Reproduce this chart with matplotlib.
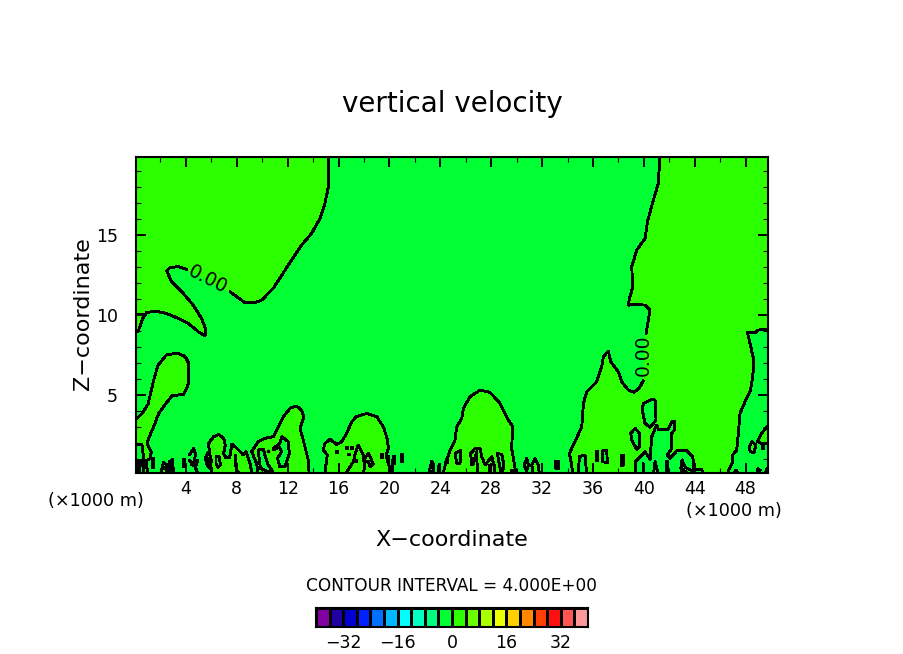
import numpy as np
import matplotlib
matplotlib.use("Agg")
import matplotlib.pyplot as plt
from matplotlib.colors import ListedColormap, BoundaryNorm

W, H = 904, 654
plt.rcParams['font.family'] = ['DejaVu Sans']

# colour scale
levels = list(range(-40, 44, 4))
level_colors = ['#8000A0', '#2000A0', '#0000D0', '#0020FF', '#0070FF', '#00B8FF', '#00FFFF',
                '#00FFC0', '#00FF80', '#00FF33', '#2BFF00', '#6AFF00', '#AAFF00', '#EAFF00',
                '#FFD000', '#FF8800', '#FF4000', '#FF1010', '#FF5555', '#FF9999']
cbar_ticks = [-32, -16, 0, 16, 32]
x_major = list(range(4, 52, 4))
x_minor = list(range(2, 50, 4))
z_major = [5, 10, 15]
z_minor = [1, 2, 3, 4, 6, 7, 8, 9, 11, 12, 13, 14, 16, 17, 18, 19]

# zero contours: (x in 1000 m, z in 1000 m)
a_upper = [(15.25, 20), (15.2, 18.02), (14.93, 16.98), (14.54, 16.04), (13.88, 15.1), (13.1, 14.37),
           (12.05, 13.12), (10.87, 11.67), (9.96, 10.94), (9.43, 10.77), (8.65, 10.77), (7.47, 11.46)]
a_lower = [(4.06, 12.85), (3.41, 13.02), (2.75, 12.98), (2.49, 12.77), (2.88, 12.08), (3.8, 11.35),
           (4.58, 10.62), (5.24, 9.79), (5.58, 9.06), (5.5, 8.69), (4.98, 8.96), (4.19, 9.48),
           (3.41, 9.79), (2.49, 10.1), (1.7, 10.23), (0.92, 10.17), (0.6, 9.79), (0.26, 9), (-1, 9)]
a_corner = [(-1, 21), (15.25, 21)]
a_spur = [(-1, 10.05), (0.65, 10.05)]

bump_b = [(-1, 3.3), (0.13, 3.5), (0.55, 3.85), (1.02, 4.42), (1.2, 5.0), (1.47, 5.94), (1.81, 6.87),
          (2.51, 7.54), (3.43, 7.6), (3.96, 7.4), (4.22, 6.98), (4.22, 5.73), (3.83, 5.04), (2.91, 4.96),
          (2.38, 4.42), (1.86, 3.85), (1.47, 3.02), (1.07, 2.29), (0.94, 1.98), (1.28, 1.46), (1.2, 1.04),
          (0.86, 0.87), (1.02, 0), (0.66, 0), (0.7, 0.9), (0.55, 1.92), (-1, 1.94)]
bump_c = [(6.05, 0), (5.84, 1.46), (5.79, 1.98), (6.18, 2.4), (6.58, 2.54), (6.97, 2.29), (7.1, 1.87),
          (6.97, 1.35), (7.15, 1.08), (7.44, 1.08), (7.62, 1.94), (8.02, 1.67), (8.41, 1.35), (8.51, 1.25),
          (8.72, 1.46), (9.04, 0.73), (9.22, 0)]
bump_d = [(9.69, 0), (9.56, 0.73), (9.17, 1.46), (9.69, 2.09), (10.2, 2.29), (10.87, 2.4), (11.66, 3.65),
          (12.18, 4.17), (12.7, 4.31), (13.1, 4.06), (13.28, 3.65), (12.97, 2.92), (13.23, 2.19),
          (13.62, 0.94), (13.7, 0)]
bump_e = [(14.93, 0), (15.01, 0.63), (15.12, 1.25), (14.8, 1.56), (14.93, 1.98), (15.33, 2.23),
          (15.85, 1.92), (16.24, 2.08), (16.64, 2.6), (17.03, 3.33), (17.42, 3.65), (18.21, 3.85),
          (19, 3.65), (19.52, 3.02), (19.86, 2.19), (19.91, 1.67), (19.73, 1.25), (20.2, 0)]
bump_f = [(24.19, 0), (24.45, 0.83), (24.77, 1.56), (25.16, 2.19), (25.29, 3.02), (25.69, 3.54),
          (25.82, 4.17), (26.34, 4.9), (27.13, 5.31), (27.91, 5.17), (28.7, 4.48), (29.35, 3.44),
          (29.69, 3.02), (29.61, 1.67), (29.88, 0.42), (29.96, 0)]

g_left = [(34.41, 0), (34.33, 0.63), (34.15, 1.36), (34.59, 2.09), (35.12, 3.02), (35.25, 4.48),
          (35.51, 5.21), (36.3, 5.84), (36.69, 6.77), (36.82, 7.4), (37.21, 7.75), (37.39, 7.09),
          (37.99, 6.46), (38.26, 5.84), (38.78, 5.32), (39.25, 5.17), (39.7, 5.52), (39.96, 5.9)]
g_top = [(40.17, 8.85), (40.49, 10.31), (40.1, 10.62), (39.31, 10.67), (38.79, 10.62), (38.86, 11.04),
         (39.13, 11.73), (39.05, 13.02), (39.44, 14.06), (40.1, 14.79), (40.28, 15.83), (40.75, 17.19),
         (41.14, 18.23), (41.33, 21)]
g_right = [(51, 9.12), (49.74, 9.12), (49, 9.06), (48.74, 8.9), (48.14, 8.9), (48.35, 8.23), (48.61, 7.29),
           (48.61, 6.56), (48.48, 5.73), (48.35, 5.21), (47.96, 4.59), (47.56, 3.86), (47.43, 2.61),
           (47.3, 1.57), (46.99, 1.25), (46.99, 0.84), (46.65, 0.3), (46.57, 0)]
g_corner = [(51, 21)]

island_h = [(39.39, 0), (39.31, 0.84), (40.09, 1.46), (40.49, 0.98), (40.62, 2.4), (41.01, 3.13),
            (41.14, 2.86), (41.93, 2.86), (42.19, 3.34), (42.4, 3.34), (42.4, 2.82), (42.19, 2.61),
            (42.19, 1.67), (41.85, 1.25), (42.06, 1.05), (42.59, 1.52), (43.37, 1.52), (43.84, 1.15),
            (43.9, 0.73), (43.9, 0.36), (44.55, 0.36), (44.68, 0)]

# small closed loops that hold the colder value
cold_loops = [
    [(9.69, 1.57), (9.77, 0.94), (9.87, 0.42), (10.35, 0.25), (10.79, 0.25), (10.48, 0.63), (10.22, 1.25), (10.08, 1.61)],
    [(10.87, 1.67), (11.39, 1.98), (11.53, 2.4), (12.05, 2.09), (12.13, 1.36), (11.79, 0.52), (11.39, 0.52),
     (11.21, 1.04), (11.53, 1.46), (11.34, 1.77), (10.87, 1.57)],
    [(6.37, 1.15), (6.63, 1.15), (6.71, 0.63), (6.52, 0.46), (6.37, 0.73)],
    [(25.16, 1.35), (25.61, 1.56), (25.55, 0.73), (25.29, 0.73)],
    [(28.49, 1.35), (28.83, 1.29), (29.01, 0.63), (28.83, 0), (28.65, 0.63)],
    [(34.85, 0), (34.93, 1.15), (35.38, 1.25), (35.51, 0)],
    [(36.74, 1.5), (37.08, 1.56), (37.13, 0.77), (36.74, 0.84)],
    [(39.96, 4.48), (40.62, 4.73), (40.88, 4.69), (40.96, 3.44), (40.49, 2.98), (40.09, 3.23), (39.88, 4.06)],
    [(38.97, 2.61), (39.31, 2.92), (39.65, 2.61), (39.65, 1.77), (39.44, 1.61), (39.05, 2.19)],
]
# small closed loops that hold the warmer value
warm_loops = [
    [(5.53, 1.04), (5.79, 1.46), (6, 0.94), (5.92, 0.42), (5.66, 0.63)],
    [(1.99, 0), (2.25, 0.79), (2.51, 0.63), (2.51, 0)],
    [(2.7, 0.25), (2.7, 0.83), (2.96, 1.0), (3.01, 0.25)],
    [(23.14, 0.25), (23.33, 0.87), (23.51, 0.63), (23.46, 0.25)],
    [(30.58, 0.63), (30.79, 1.04), (30.93, 0.63), (30.79, 0.25)],
    [(31.32, 0), (31.19, 0.63), (31.45, 1.04), (31.71, 0.63), (31.79, 0)],
    [(33.05, 0.9), (33.3, 0.9), (33.3, 0.4), (33.12, 0.4)],
    [(40.75, 0), (40.88, 0.84), (41.14, 0)],
    [(48.3, 1.77), (48.48, 2.09), (48.8, 1.88), (48.66, 1.4), (48.35, 1.46)],
    [(51, 3.02), (49.66, 3.02), (49.27, 2.61), (48.93, 2.09), (49.27, 1.98), (51, 1.98)],
    [(47.04, 0), (47.25, 0.32), (47.43, 0)],
    [(48.95, 0), (48.95, 0.4), (49.14, 0.3)],
    [(49.53, 0), (49.66, 0.4), (49.85, 0)],
    [(-1, 0.94), (0.44, 0.94), (0.34, 0)],
]
# warmest little loop, right of x = 38
warmer_loops = [[(38.26, 1.25), (38.44, 1.25), (38.39, 0.62), (38.2, 0.56)]]

open_lines = [
    [(4.27, 1.25), (4.61, 1.67), (4.74, 1.35), (4.69, 0.83), (4.87, 0)],
    [(4.4, 0.83), (4.61, 0.58), (4.27, 0.94)],
    [(4.92, 0.9), (4.76, 0.5), (4.95, 0)],
    [(7.9, 1.25), (7.95, 0.3), (8.3, 0)],
    [(26.92, 0), (26.86, 1.46), (26.6, 0.73), (26.47, 0.63), (26.39, 1.35), (26.73, 1.67), (27.13, 1.67),
     (27.26, 1.15), (27.52, 0.63), (28.04, 1.15), (28.23, 0.63), (28.23, 0)],
    [(27.86, 0), (27.86, 0.63), (28.12, 0.63)],
    [(23.85, 0), (23.9, 0.67)],
    [(16.5, 0), (17.16, 0.83), (17.29, 1.25), (17.55, 1.87), (17.95, 1.25), (17.95, 0.92), (18.34, 1.35),
     (18.6, 0.94), (18.73, 0.67), (18.47, 0.52), (18.34, 0.87), (17.95, 0.87)],
    [(17.95, 0), (18.08, 0.83)],
    [(20.2, 0.9), (20.3, 0)],
    [(39.91, 0), (39.91, 0.73)],
    [(42.9, 0), (43.0, 0.95), (43.25, 0.5), (43.8, 0.25)],
    [(42.9, 0.45), (43.37, 0.15)],
]
# thick short strokes: x, lower z, upper z
marks_x = [0.24, 1.44, 2.35, 2.85, 3.83, 4.45, 15.85, 16.64, 17.08, 16.85, 17.37, 19.39, 19.91, 20.36, 21.01,
           24.5, 29.6, 33.2, 36.35, 41.8, 5.75, 49.4]
marks_lo = [0.2, 0.4, 0.3, 0.3, 0.46, 0.55, 1.31, 1.56, 1.56, 1.2, 0.75, 0.98, 0.73, 0.63, 0.73,
            0.7, 0.2, 0.45, 0.84, 0.2, 0.65, 1.55]
marks_hi = [0.9, 1.1, 0.55, 0.8, 1.04, 0.85, 1.56, 1.83, 1.83, 1.35, 1.0, 1.4, 1.25, 1.25, 1.35,
            1.0, 0.35, 0.85, 1.57, 0.95, 1.1, 1.85]
dots_x = [10.48]
dots_z = [1.5]


def px_x(p):
    return p / W


def px_y(p):
    return 1 - p / H


cmap = ListedColormap(level_colors)
norm = BoundaryNorm(levels, cmap.N)
cold, warm, warmer = cmap(norm(-2)), cmap(norm(2)), cmap(norm(10))
LW = 1.35

fig = plt.figure(figsize=(W / 100, H / 100), dpi=100, facecolor='white')
ax = fig.add_axes([px_x(136), px_y(472.5), (768 - 136) / W, (472.5 - 157) / H], facecolor=cold)


def shape(points, colour, edge=True):
    xs, zs = zip(*points)
    ax.fill(xs, zs, facecolor=colour, edgecolor='k' if edge else 'none', lw=LW if edge else 0,
            antialiased=False, joinstyle='round')


def curve(points, lw=LW):
    xs, zs = zip(*points)
    ax.plot(xs, zs, color='k', lw=lw, antialiased=False, solid_capstyle='round', solid_joinstyle='round')


shape(a_upper + a_lower + a_corner, warm, edge=False)
curve(a_upper)
curve(a_lower)
curve(a_spur)
shape(g_left + g_top + g_corner + g_right, warm, edge=False)
curve(g_left)
curve(g_top)
curve(g_right)
for b in (bump_b, bump_c, bump_d, bump_e, bump_f):
    shape(b, warm)
shape(island_h, cold)
for loop in cold_loops:
    shape(loop, cold)
for loop in warm_loops:
    shape(loop, warm)
for loop in warmer_loops:
    shape(loop, warmer)

for pts in open_lines:
    curve(pts)
ax.vlines(marks_x, marks_lo, marks_hi, color='k', lw=1.6, antialiased=False)
ax.plot(dots_x, dots_z, 's', color='k', ms=2, antialiased=False)

ax.text(5.74, 12.2, '0.00', rotation=-27, rotation_mode='anchor', ha='center', va='center', fontsize=13.5)
ax.text(39.95, 7.5, '0.00', rotation=90, rotation_mode='anchor', ha='center', va='center', fontsize=13.5)

ax.set_xlim(0.08, 49.76)
ax.set_ylim(0.16, 19.88)
ax.set_xticks(x_major)
ax.set_xticks(x_minor, minor=True)
ax.set_yticks(z_major)
ax.set_yticks(z_minor, minor=True)
ax.tick_params(which='major', direction='in', top=True, right=True, length=7.2, width=1.4, labelsize=12.5)
ax.tick_params(which='minor', direction='in', top=True, right=True, length=3.4, width=0.8)
ax.tick_params(axis='x', which='major', pad=5.5)
ax.tick_params(axis='y', which='major', pad=13)
for s in ax.spines.values():
    s.set_linewidth(1.5)

fig.text(px_x(452), px_y(104), 'vertical velocity', ha='center', va='center', fontsize=20)
fig.text(px_x(452), px_y(540), 'X\u2212coordinate', ha='center', va='center', fontsize=16)
fig.text(px_x(83), px_y(314), 'Z\u2212coordinate', ha='center', va='center', rotation=90, fontsize=16)
fig.text(px_x(96), px_y(501), '(\u00d71000 m)', ha='center', va='center', fontsize=12.7)
fig.text(px_x(733.5), px_y(511.5), '(\u00d71000 m)', ha='center', va='center', fontsize=12.7)
fig.text(px_x(452), px_y(586), 'CONTOUR INTERVAL = 4.000E+00', ha='center', va='center', fontsize=12.2)

cax = fig.add_axes([px_x(316), px_y(627), (588 - 316) / W, (627 - 608) / H])
mids = (np.array(levels[:-1]) + np.array(levels[1:])) / 2
cax.pcolormesh(levels, [0, 1], mids.reshape(1, -1), cmap=cmap, norm=norm, edgecolors='k', linewidth=1.0,
               antialiased=False)
cax.set_yticks([])
cax.set_xticks(cbar_ticks)
cax.set_xticklabels([str(t).replace('-', '\u2212') for t in cbar_ticks])
cax.tick_params(axis='x', length=0, pad=5, labelsize=12.5)
for s in cax.spines.values():
    s.set_linewidth(1.5)

fig.savefig('out.png', dpi=100)
